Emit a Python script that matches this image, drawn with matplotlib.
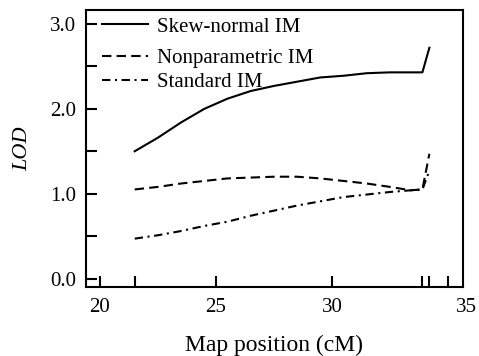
import matplotlib
matplotlib.use("Agg")
import matplotlib.pyplot as plt
import matplotlib.transforms as mtransforms

# LOD profiles along the map position (cM)
pos = [21.5, 22.5, 23.5, 24.5, 25.5, 26.5, 27.5, 28.5, 29.5, 30.5, 31.5, 32.5, 33.4, 33.9, 34.2]
skew_normal = [1.50, 1.66, 1.84, 2.00, 2.12, 2.21, 2.27, 2.32, 2.37, 2.39, 2.42, 2.43, 2.43, 2.43, 2.72]
nonparametric = [1.05, 1.08, 1.12, 1.15, 1.18, 1.19, 1.20, 1.20, 1.18, 1.15, 1.12, 1.08, 1.04, 1.05, 1.47]
standard = [0.47, 0.51, 0.56, 0.62, 0.67, 0.74, 0.80, 0.86, 0.91, 0.96, 0.99, 1.02, 1.04, 1.05, 1.27]

labels = ["Skew-normal IM", "Nonparametric IM", "Standard IM"]
xticks = [20, 25, 30, 35]
xticks_minor = [21.5, 33.9, 34.2]
yticks = [0.0, 1.0, 2.0, 3.0]
yticks_minor = [0.5, 1.5, 2.5]

plt.rcParams['font.family'] = ['Liberation Serif', 'DejaVu Serif']

fig = plt.figure(figsize=(4.79, 3.56), dpi=100)
ax = fig.add_axes([0.1795, 0.1938, 0.7871, 0.7781])

l1, = ax.plot(pos, skew_normal, color='black', lw=1.5, linestyle='-')
l2, = ax.plot(pos, nonparametric, color='black', lw=1.5, linestyle=(0, (4.5, 2.5)))
l3, = ax.plot(pos, standard, color='black', lw=1.5, linestyle=(0, (4.0, 2.2, 1.0, 2.2)))

ax.set_xlim(19.4, 35.65)
ax.set_ylim(-0.1, 3.165)

ax.set_xticks(xticks)
ax.set_xticks(xticks_minor, minor=True)
ax.set_yticks(yticks)
ax.set_yticklabels(["%.1f" % v for v in yticks])
ax.set_yticks(yticks_minor, minor=True)

ax.tick_params(which='both', direction='in', length=8, width=1.5, labelsize=15)
ax.tick_params(axis='x', pad=8)
ax.tick_params(axis='y', pad=7)

for s in ax.spines.values():
    s.set_linewidth(1.5)

# the "35" label sits a little right of its tick in the original
for lbl in ax.get_xticklabels():
    if lbl.get_text() == "35":
        off = mtransforms.ScaledTranslation(19 / 100, 0, fig.dpi_scale_trans)
        lbl.set_transform(lbl.get_transform() + off)

ax.set_xlabel("Map position (cM)", fontsize=17, labelpad=13)
ax.set_ylabel("LOD", fontsize=16, style='italic', labelpad=13)

leg1 = ax.legend([l1], labels[:1], loc='upper left', bbox_to_anchor=(0.042, 0.975),
                 frameon=False, fontsize=15, handlelength=2.2, handletextpad=0.45,
                 borderpad=0, borderaxespad=0)
ax.add_artist(leg1)
ax.legend([l2, l3], labels[1:], loc='upper left', bbox_to_anchor=(0.042, 0.86),
          frameon=False, fontsize=15, handlelength=2.2, handletextpad=0.45,
          labelspacing=0.2, borderpad=0, borderaxespad=0)

fig.savefig("out.png", dpi=100)
